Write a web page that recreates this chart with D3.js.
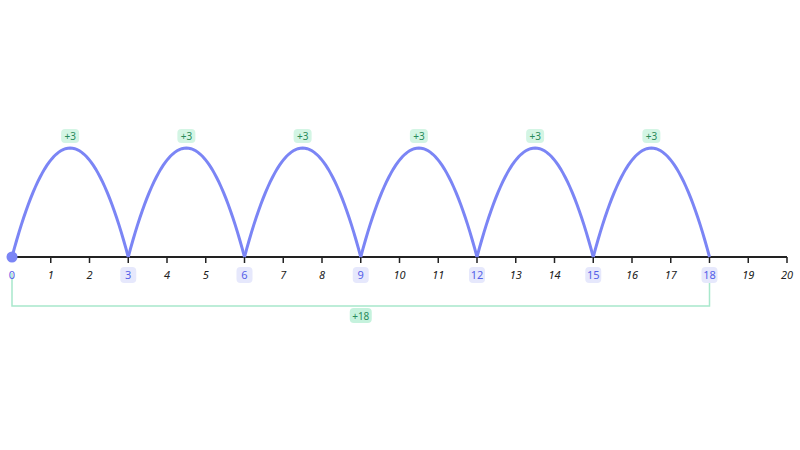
<!DOCTYPE html><html><head><meta charset="utf-8"><script src="https://cdn.jsdelivr.net/npm/d3@7"></script>
<style>body{margin:0;background:#fff}text{font-family:"Noto Sans",sans-serif}</style></head><body>
<svg id="c" width="800" height="450"></svg>
<script>
const ticks = d3.range(0,21);
const jumpStarts = [0,3,6,9,12,15];
const jumpSize = 3;
const jumpLabels = ["+3","+3","+3","+3","+3","+3"];
const landed = [0,3,6,9,12,15,18];
const totalLabel = "+18";
const svg = d3.select("#c");
const x = d3.scaleLinear().domain([0,20]).range([12,787]);
const y0 = 257, h = d3.scaleLinear().domain([0,1]).range([y0,148]);
svg.append("line").attr("x1",x(0)).attr("x2",x(20)).attr("y1",y0).attr("y2",y0).attr("stroke","#222").attr("stroke-width",2);
svg.selectAll(".t").data(ticks.filter(d=>d>0)).join("line").attr("x1",d=>x(d)).attr("x2",d=>x(d)).attr("y1",y0).attr("y2",y0+6).attr("stroke","#222").attr("stroke-width",1.5);
// bracket
svg.append("path").attr("d",`M${x(0)},${y0+16}V306H${x(18)}V${y0+16}`).attr("fill","none").attr("stroke","#a8e8cc").attr("stroke-width",1.5);
const gl=svg.append("g").attr("transform",`translate(${(x(0)+x(18))/2},316)`);
gl.append("rect").attr("x",-11).attr("y",-8).attr("width",22).attr("height",15).attr("rx",4).attr("fill","#c5f2dd");
gl.append("text").attr("text-anchor","middle").attr("y",4).attr("font-size",10).attr("fill","#2a8a5a").text(totalLabel);
// tick labels
ticks.forEach(d=>{
  const isL = landed.includes(d);
  const g=svg.append("g").attr("transform",`translate(${x(d)},275)`);
  if(isL && d>0) g.append("rect").attr("x",-8).attr("y",-8).attr("width",16).attr("height",16).attr("rx",4).attr("fill","#e6e8fc");
  g.append("text").attr("text-anchor","middle").attr("y",4).attr("font-size",11).attr("font-style",isL?"normal":"italic").attr("fill",isL?"#5560e8":"#222").text(d);
});
// arcs
const line=d3.line().x(d=>x(d[0])).y(d=>h(d[1]));
jumpStarts.forEach((s,i)=>{
  const pts=d3.range(0,1.0001,0.02).map(t=>[s+t*jumpSize, 1-Math.pow(2*t-1,2)]);
  svg.append("path").attr("d",line(pts)).attr("fill","none").attr("stroke","#7b85f5").attr("stroke-width",3);
  const g=svg.append("g").attr("transform",`translate(${x(s+jumpSize/2)},136)`);
  g.append("rect").attr("x",-9).attr("y",-7).attr("width",18).attr("height",14).attr("rx",4).attr("fill","#d3f5e4");
  g.append("text").attr("text-anchor","middle").attr("y",4).attr("font-size",10).attr("fill","#2a8a5a").text(jumpLabels[i]);
});
svg.append("circle").attr("cx",x(0)).attr("cy",y0).attr("r",5.5).attr("fill","#7b85f5");
</script></body></html>
